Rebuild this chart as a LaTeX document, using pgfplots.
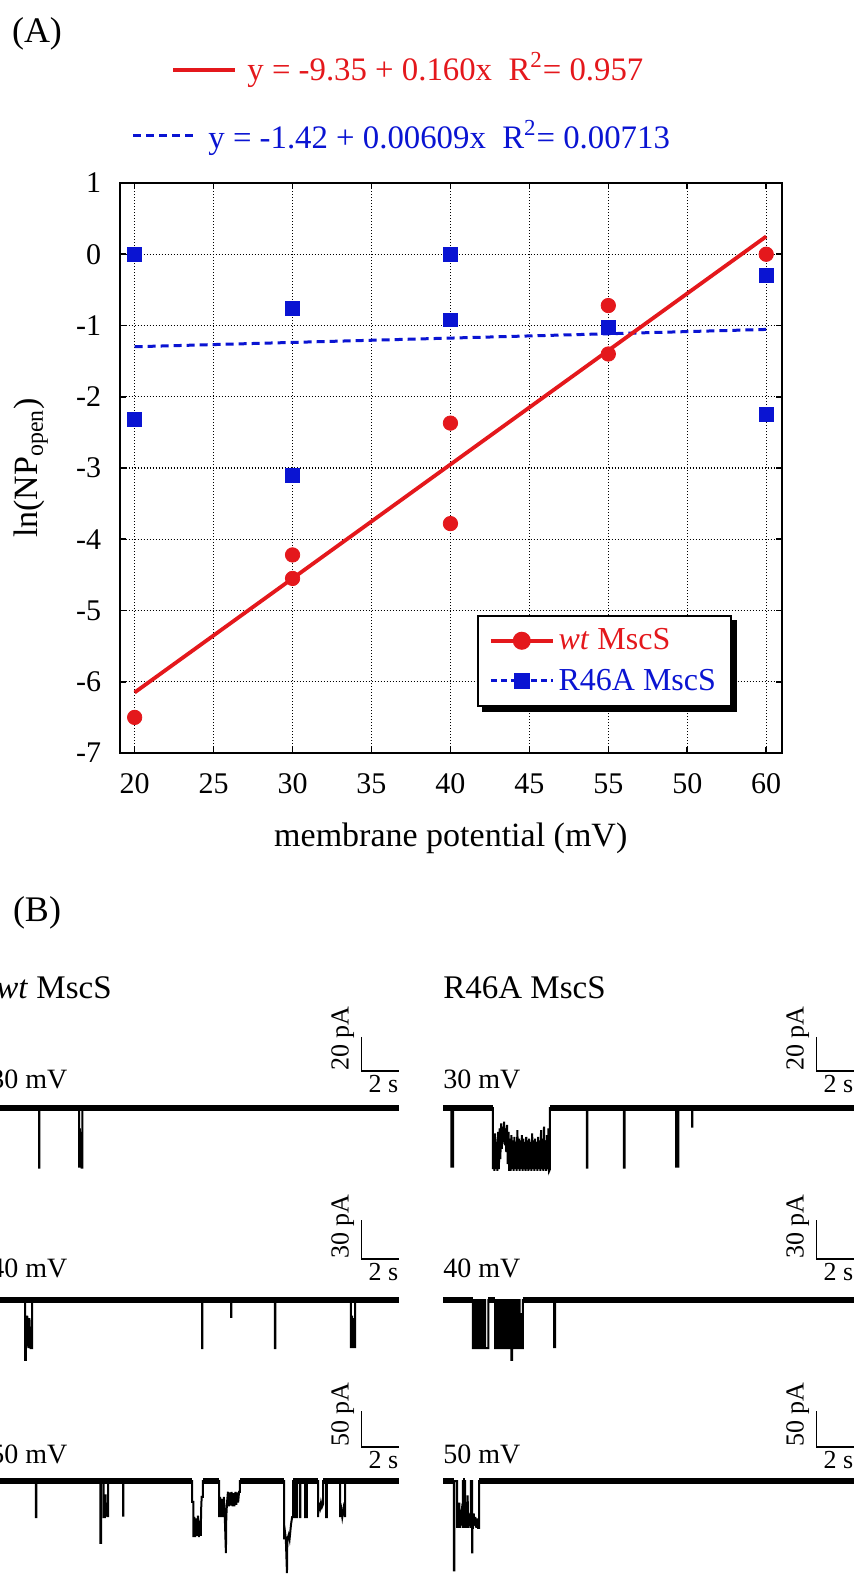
\documentclass[border=0pt]{standalone}
\usepackage{fontspec}
\setmainfont{Liberation Serif}
\usepackage{pgfplots}
\usepackage{pgfplotstable}
\pgfplotsset{compat=1.18}

\definecolor{fitred}{HTML}{E4181C}
\definecolor{fitblue}{HTML}{0A14D2}

% ln(NP_open) vs membrane potential
\pgfplotstableread{
x y
20 -6.50
30 -4.22
30 -4.55
40 -2.37
40 -3.78
50 -0.72
50 -1.40
60 0.00
}\wtdata
\pgfplotstableread{
x y
20 0.00
20 -2.32
30 -0.76
30 -3.10
40 0.00
40 -0.92
50 -1.03
60 -0.30
60 -2.25
}\rdata

\pgfplotsset{
  trace/.style={hide axis, x=9.25pt, xmin=0, xmax=22.2, ymin=-130, ymax=100,
    clip=false, anchor=south west},
}
\tikzset{
  trbase/.style={black, line width=3.4pt},
  trline/.style={black, line width=1pt},
  scalebar/.style={black, line width=0.7pt},
  vlab/.style={anchor=base west, inner sep=0pt, font=\fontsize{14}{16}\selectfont},
  sblab/.style={inner sep=0pt, font=\fontsize{13}{15}\selectfont},
}

\begin{document}
\begin{tikzpicture}
\path[use as bounding box] (0,0) rectangle (429pt,-787.5pt);

\node[font=\fontsize{18}{21}\selectfont] at (18.5pt,-17pt) {(A)};
\node[font=\fontsize{18}{21}\selectfont] at (18.5pt,-456.5pt) {(B)};

% fit equations
\draw[fitred, line width=2pt] (86.5pt,-35pt) -- (117.5pt,-35pt);
\node[anchor=base west, inner sep=0pt, text=fitred, font=\fontsize{16.4}{19}\selectfont]
  at (123.5pt,-40pt) {y = -9.35 + 0.160x\ \ R\textsuperscript{2}= 0.957};
\draw[fitblue, line width=1.5pt, dash pattern=on 4pt off 2.5pt] (66.5pt,-67.5pt) -- (97.5pt,-67.5pt);
\node[anchor=base west, inner sep=0pt, text=fitblue, font=\fontsize{16.4}{19}\selectfont]
  at (104pt,-74pt) {y = -1.42 + 0.00609x\ \ R\textsuperscript{2}= 0.00713};

\begin{axis}[
  at={(59.75pt,-376.5pt)}, anchor=south west,
  width=331.25pt, height=285pt, scale only axis,
  xmin=19.04, xmax=61.0, ymin=-7, ymax=1,
  xtick={20,25,...,60}, xticklabels={20,25,30,35,40,45,55,50,60},
  ytick={-7,-6,...,1}, yticklabels={-7,-6,-5,-4,-3,-2,-1,0,1},
  tick align=inside, major tick length=3pt,
  every tick/.style={black, line width=0.8pt},
  axis line style={line width=1pt},
  grid=major, grid style={black, line width=0.6pt, dash pattern=on 0.6pt off 0.9pt},
  tick label style={font=\fontsize{15}{18}\selectfont},
  xticklabel style={inner sep=0pt, yshift=-10pt},
  yticklabel style={inner sep=0pt, xshift=-9pt},
  xlabel={membrane potential (mV)},
  ylabel={ln(NP\textsubscript{open})},
  label style={font=\fontsize{17}{20}\selectfont},
  xlabel style={at={(axis description cs:0.5,-0.149)}, anchor=center},
  ylabel style={at={(axis description cs:-0.1336,0.5)}, anchor=center},
  legend cell align=left,
  legend image code/.code={\draw[mark repeat=2,mark phase=2,#1] plot coordinates {(0pt,0pt) (15.5pt,0pt) (31pt,0pt)};},
  legend style={name=lgd, at={(0.5396,0.242)}, anchor=north west, draw=black, line width=1pt,
    fill=white, font=\fontsize{16}{19}\selectfont, inner xsep=5.5pt, inner ysep=4.3pt, row sep=4pt},
]
\addlegendimage{fitred, line width=1.8pt, mark=*, mark size=3.6pt, mark options={solid}}
\addlegendentry{\textcolor{fitred}{\textit{wt} MscS}}
\addlegendimage{fitblue, line width=1.5pt, dash pattern=on 3pt off 2pt, mark=square*, mark size=3.2pt, mark options={solid}}
\addlegendentry{\textcolor{fitblue}{R46A MscS}}

\addplot[forget plot, fitblue, line width=1.5pt, dash pattern=on 4pt off 2.5pt] coordinates {(20,-1.298) (60,-1.055)};
\addplot[forget plot, fitred, line width=1.9pt] coordinates {(20,-6.15) (60,0.25)};
\addplot[forget plot, only marks, mark=square*, mark size=3.4pt, color=fitblue] table[x=x,y=y] {\rdata};
\addplot[forget plot, only marks, mark=*, mark size=3.6pt, color=fitred] table[x=x,y=y] {\wtdata};
\end{axis}
% legend shadow
\fill[black] ([yshift=-2.5pt]lgd.north east) rectangle ([shift={(2.5pt,-2.5pt)}]lgd.south east);
\fill[black] ([xshift=2.5pt]lgd.south west) rectangle ([shift={(2.5pt,-2.5pt)}]lgd.south east);

% ---- (B) current traces ----
\node[anchor=base west, inner sep=0pt, font=\fontsize{16.5}{19}\selectfont] at (-2pt,-499pt) {\textit{wt} MscS};
\node[anchor=base west, inner sep=0pt, font=\fontsize{16.5}{19}\selectfont] at (221.5pt,-499pt) {R46A MscS};

% wt, 30 mV
\begin{axis}[trace, at={(-6pt,-664.5pt)}, y=0.85pt]
\addplot[trbase] coordinates {(0,0) (22.2,0)};
\addplot[trline] coordinates {(0,0) (2.76,0) (2.76,-35) (2.78,-35) (2.78,0)
 (4.92,0) (4.92,-35) (4.97,-12) (5.0,-35) (5.03,-14) (5.06,-35) (5.1,-35) (5.1,0) (22.2,0)};
\addplot[scalebar] coordinates {(20.2,41.8) (20.2,21.8) (22.2,21.8)};
\node[sblab, rotate=90, anchor=south west] at (axis cs:19.82,21.8) {20 pA};
\node[sblab, anchor=north east, yshift=-2pt] at (axis cs:22.2,21.8) {2 s};
\node[vlab, xshift=1pt, yshift=10pt] at (axis cs:0,0) {30 mV};
\end{axis}

% R46A, 30 mV
\begin{axis}[trace, at={(221.5pt,-664.5pt)}, y=0.85pt]
\addplot[trbase] coordinates {(0,0) (2.70,0)};
\addplot[trbase] coordinates {(5.78,0) (22.2,0)};
\addplot[trline] coordinates {(0,0) (0.45,0) (0.45,-35) (0.50,-12) (0.55,-35) (0.55,0) (2.70,0)
 (2.70,-36) (2.74,-18) (2.78,-37) (2.82,-15) (2.86,-36) (2.90,-20) (2.94,-37) (2.98,-14)
 (3.02,-36) (3.06,-12) (3.10,-30) (3.14,-9) (3.18,-24) (3.22,-11) (3.26,-20) (3.30,-8)
 (3.34,-22) (3.38,-12) (3.42,-26) (3.46,-10) (3.50,-33) (3.54,-14) (3.58,-37) (3.62,-18)
 (3.66,-37) (3.70,-16) (3.74,-36) (3.78,-19) (3.82,-37) (3.86,-17) (3.90,-36) (3.94,-20)
 (3.98,-37) (4.02,-13) (4.06,-36) (4.10,-18) (4.14,-37) (4.18,-19) (4.22,-36) (4.26,-16)
 (4.30,-37) (4.34,-18) (4.38,-36) (4.42,-20) (4.46,-37) (4.50,-17) (4.54,-36) (4.58,-19)
 (4.62,-37) (4.66,-18) (4.70,-36) (4.74,-20) (4.78,-37) (4.82,-15) (4.86,-36) (4.90,-19)
 (4.94,-37) (4.98,-18) (5.02,-36) (5.06,-20) (5.10,-37) (5.14,-17) (5.18,-36) (5.22,-19)
 (5.26,-37) (5.30,-13) (5.34,-36) (5.38,-18) (5.42,-37) (5.46,-11) (5.50,-36) (5.54,-19)
 (5.58,-37) (5.62,-16) (5.66,-36) (5.70,-12) (5.74,-37) (5.78,-36) (5.78,0)
 (7.78,0) (7.78,-35) (7.80,-35) (7.80,0) (9.78,0) (9.78,-35) (9.82,-35) (9.82,0)
 (12.60,0) (12.60,-35) (12.66,-14) (12.72,-35) (12.72,0) (13.46,0) (13.46,-11) (13.48,-11) (13.48,0) (22.2,0)};
\addplot[scalebar] coordinates {(20.2,41.8) (20.2,21.8) (22.2,21.8)};
\node[sblab, rotate=90, anchor=south west] at (axis cs:19.82,21.8) {20 pA};
\node[sblab, anchor=north east, yshift=-2pt] at (axis cs:22.2,21.8) {2 s};
\node[vlab, xshift=0pt, yshift=10pt] at (axis cs:0,0) {30 mV};
\end{axis}

% wt, 40 mV
\begin{axis}[trace, at={(-6pt,-734.5pt)}, y=0.65pt]
\addplot[trbase] coordinates {(0,0) (22.2,0)};
\addplot[trline] coordinates {(0,0) (2.0,0) (2.0,-46) (2.05,-46) (2.05,-37) (2.12,-12) (2.18,-37) (2.24,-14) (2.3,-37) (2.38,-37) (2.38,0)
 (11.57,0) (11.57,-37) (11.59,-37) (11.59,0) (13.14,0) (13.14,-13) (13.16,-13) (13.16,0)
 (15.51,0) (15.51,-37) (15.53,-37) (15.53,0) (19.62,0) (19.62,-37) (19.68,-12) (19.73,-37) (19.78,-14) (19.84,-37) (19.84,0) (22.2,0)};
\addplot[scalebar] coordinates {(20.2,61.5) (20.2,31.5) (22.2,31.5)};
\node[sblab, rotate=90, anchor=south west] at (axis cs:19.82,31.5) {30 pA};
\node[sblab, anchor=north east, yshift=-2pt] at (axis cs:22.2,31.5) {2 s};
\node[vlab, xshift=1pt, yshift=11.5pt] at (axis cs:0,0) {40 mV};
\end{axis}

% R46A, 40 mV
\begin{axis}[trace, at={(221.5pt,-734.5pt)}, y=0.65pt]
\addplot[trbase] coordinates {(0,0) (1.62,0)};
\addplot[trbase] coordinates {(2.45,0) (2.82,0)};
\addplot[trbase] coordinates {(4.32,0) (22.2,0)};
\addplot[trline] coordinates {(0,0) (1.62,0)
 (1.62,-37) (1.70,-37) (1.70,0) (1.76,0) (1.76,-37) (1.84,-37) (1.84,0) (1.88,0) (1.88,-37) (2.0,-37) (2.0,0)
 (2.05,0) (2.05,-37) (2.12,-37) (2.12,0) (2.16,0) (2.16,-37) (2.22,-37) (2.22,0) (2.27,0) (2.27,-37) (2.45,-37) (2.45,0)
 (2.82,0) (2.82,-37) (2.90,-37) (2.90,0) (2.94,0) (2.94,-37) (3.05,-37) (3.05,0) (3.10,0) (3.10,-37) (3.14,-37) (3.14,0)
 (3.20,0) (3.20,-37) (3.30,-37) (3.30,0) (3.36,0) (3.36,-37) (3.42,-37) (3.42,0) (3.46,0) (3.46,-37) (3.55,-37) (3.55,0)
 (3.60,0) (3.60,-37) (3.66,-37) (3.66,0) (3.70,0) (3.70,-46) (3.73,-46) (3.73,0) (3.78,0) (3.78,-37) (3.85,-37) (3.85,0)
 (3.90,0) (3.90,-37) (3.98,-37) (3.98,0) (4.02,0) (4.02,-37) (4.10,-37) (4.10,0) (4.14,0) (4.14,-37) (4.24,-37) (4.24,-10) (4.27,-37) (4.32,-37) (4.32,0)
 (6.0,0) (6.0,-37) (6.03,-14) (6.06,-37) (6.06,0) (22.2,0)};
\addplot[scalebar] coordinates {(20.2,61.5) (20.2,31.5) (22.2,31.5)};
\node[sblab, rotate=90, anchor=south west] at (axis cs:19.82,31.5) {30 pA};
\node[sblab, anchor=north east, yshift=-2pt] at (axis cs:22.2,31.5) {2 s};
\node[vlab, xshift=0pt, yshift=11.5pt] at (axis cs:0,0) {40 mV};
\end{axis}

% wt, 50 mV
\begin{axis}[trace, at={(-6pt,-787.3pt)}, y=0.36pt]
\addplot[trbase] coordinates {(0,0) (11.03,0)};
\addplot[trbase] coordinates {(11.62,0) (12.49,0)};
\addplot[trbase] coordinates {(13.62,0) (16.0,0)};
\addplot[trbase] coordinates {(16.49,0) (17.84,0)};
\addplot[trbase] coordinates {(18.11,0) (22.2,0)};
\addplot[trline] coordinates {(0,0) (2.59,0) (2.59,-50) (2.61,-50) (2.61,0)
 (6.08,0) (6.08,-86) (6.12,-86) (6.12,0) (6.25,0) (6.25,-50) (6.32,-50) (6.32,-20) (6.36,-20) (6.36,-50) (6.42,-30) (6.49,-50) (6.49,0)
 (7.3,0) (7.3,-48) (7.32,-48) (7.32,0)
 (11.03,0) (11.03,-29) (11.1,-29) (11.1,-78) (11.15,-50) (11.2,-78) (11.25,-52) (11.3,-76) (11.35,-48) (11.4,-78) (11.45,-55) (11.5,-76) (11.52,-40) (11.55,-22) (11.62,-22) (11.62,0)
 (12.49,0) (12.49,-50) (12.55,-22) (12.6,-50) (12.65,-25) (12.7,-50) (12.75,-22) (12.8,-50) (12.86,-100) (12.88,-50) (12.92,-30) (12.97,-15) (13.02,-35) (13.07,-16) (13.12,-34) (13.17,-15) (13.22,-35) (13.27,-17) (13.32,-35) (13.37,-15) (13.42,-33) (13.47,-16) (13.52,-30) (13.57,-15) (13.62,-15) (13.62,0)
 (16.0,0) (16.0,-81) (16.05,-70) (16.1,-81) (16.16,-128) (16.18,-81) (16.25,-75) (16.3,-81) (16.38,-60) (16.44,-50) (16.49,-50) (16.49,0)
 (16.59,0) (16.59,-50) (16.7,-50) (16.7,0) (16.86,0) (16.86,-50) (16.88,-50) (16.88,0)
 (17.14,0) (17.14,-50) (17.24,-50) (17.24,0)
 (17.84,0) (17.84,-50) (17.88,-32) (17.95,-38) (18.0,-30) (18.05,-36) (18.11,-32) (18.11,0)
 (18.27,0) (18.27,-50) (18.32,-50) (18.32,0) (19.03,0) (19.03,-50) (19.1,-40) (19.15,-50) (19.22,-38) (19.3,-50) (19.3,0) (22.2,0)};
\addplot[scalebar] coordinates {(20.2,97.2) (20.2,47.2) (22.2,47.2)};
\node[sblab, rotate=90, anchor=south west] at (axis cs:19.82,47.2) {50 pA};
\node[sblab, anchor=north east, yshift=-2pt] at (axis cs:22.2,47.2) {2 s};
\node[vlab, xshift=1pt, yshift=9pt] at (axis cs:0,0) {50 mV};
\end{axis}

% R46A, 50 mV
\begin{axis}[trace, at={(221.5pt,-787.3pt)}, y=0.36pt]
\addplot[trbase] coordinates {(0,0) (0.59,0)};
\addplot[trbase] coordinates {(1.08,0) (1.19,0)};
\addplot[trbase] coordinates {(1.95,0) (22.2,0)};
\addplot[trline] coordinates {(0,0) (0.59,0) (0.59,-124) (0.61,-124) (0.61,0) (0.76,0) (0.76,-65) (0.82,-40) (0.85,-65) (0.88,-30) (0.92,-65) (1.0,-45) (1.08,-65) (1.08,0)
 (1.19,0) (1.19,-65) (1.25,-40) (1.3,-65) (1.33,-20) (1.37,-65) (1.44,-45) (1.51,-65) (1.51,0) (1.57,0) (1.57,-99) (1.59,-99) (1.59,-65)
 (1.62,-65) (1.66,-45) (1.7,-62) (1.75,-50) (1.8,-65) (1.85,-52) (1.9,-65) (1.95,-65) (1.95,0) (22.2,0)};
\addplot[scalebar] coordinates {(20.2,97.2) (20.2,47.2) (22.2,47.2)};
\node[sblab, rotate=90, anchor=south west] at (axis cs:19.82,47.2) {50 pA};
\node[sblab, anchor=north east, yshift=-2pt] at (axis cs:22.2,47.2) {2 s};
\node[vlab, xshift=0pt, yshift=9pt] at (axis cs:0,0) {50 mV};
\end{axis}
\end{tikzpicture}
\end{document}
